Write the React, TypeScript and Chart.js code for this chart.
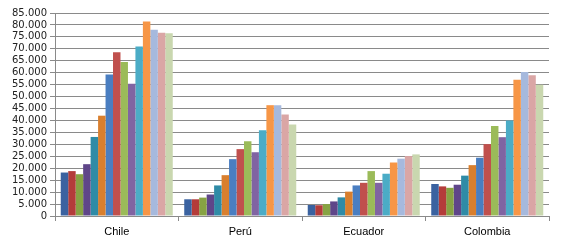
import React, { useEffect, useRef } from "react";
import { Chart, registerables } from "chart.js";

Chart.register(...registerables);

const categories = ["Chile", "Perú", "Ecuador", "Colombia"];

const chile = [18200, 18800, 17500, 21700, 33100, 42000, 59300, 68600, 64500, 55400, 71000, 81400, 78000, 76700, 76500];
const peru = [7000, 7000, 7700, 9000, 12800, 17100, 23800, 28000, 31300, 26700, 35900, 46400, 46400, 42500, 38300];
const ecuador = [4600, 4500, 5000, 6100, 7800, 10200, 12800, 13900, 18800, 13900, 17700, 22400, 24000, 25100, 25800];
const colombia = [13400, 12400, 11800, 13100, 16900, 21300, 24400, 30100, 37700, 33000, 40000, 57000, 60300, 58900, 55000];

const seriesColors = [
  "#3A62A0", "#B43C3A", "#87A343", "#5F4689", "#2F8BA6", "#D97F2E",
  "#4A7EC1", "#C0504D", "#9BBB59", "#8064A2", "#4BACC6", "#F79646",
  "#A6B9DD", "#DAA6A5", "#C9D7AF",
];

function fmt(v: number): string {
  if (v === 0) return "0";
  const th = Math.floor(v / 1000);
  const rest = v % 1000;
  return th + "." + String(rest).padStart(3, "0");
}

export default function App() {
  const ref = useRef<HTMLCanvasElement>(null);
  useEffect(() => {
    document.body.style.margin = "0";
    const ctx = ref.current!;
    const datasets = seriesColors.map((c, i) => ({
      label: "S" + (i + 1),
      data: [chile[i], peru[i], ecuador[i], colombia[i]],
      backgroundColor: c,
      borderWidth: 0,
      barPercentage: 1,
      categoryPercentage: 0.907,
    }));
    const chart = new Chart(ctx, {
      type: "bar",
      data: { labels: categories, datasets },
      options: {
        animation: false,
        responsive: false,
        maintainAspectRatio: false,
        layout: { padding: { left: 0, right: 13, top: 13, bottom: 0 } },
        plugins: { legend: { display: false }, tooltip: { enabled: false } },
        scales: {
          x: {
            grid: { drawOnChartArea: false, drawTicks: true, tickLength: 5, color: "#8a8a8a", offset: true },
            border: { color: "#8a8a8a", width: 1 },
            ticks: { color: "#000", font: { family: "Liberation Sans", size: 11 }, padding: 4 },
            afterFit: (s: any) => { s.height = 27; },
          },
          y: {
            min: 0,
            max: 85000,
            grid: { color: "#8a8a8a", tickLength: 5, lineWidth: 1 },
            border: { color: "#8a8a8a", width: 1 },
            ticks: {
              stepSize: 5000,
              autoSkip: false,
              color: "#222",
              padding: 3,
              font: { family: "DejaVu Sans", size: 10 },
              callback: (v: any) => fmt(Number(v)),
            },
            afterFit: (s: any) => { s.width = 55; },
          },
        },
      },
    });
    return () => chart.destroy();
  }, []);
  return <canvas ref={ref} width={562} height={243} style={{ display: "block" }} />;
}
